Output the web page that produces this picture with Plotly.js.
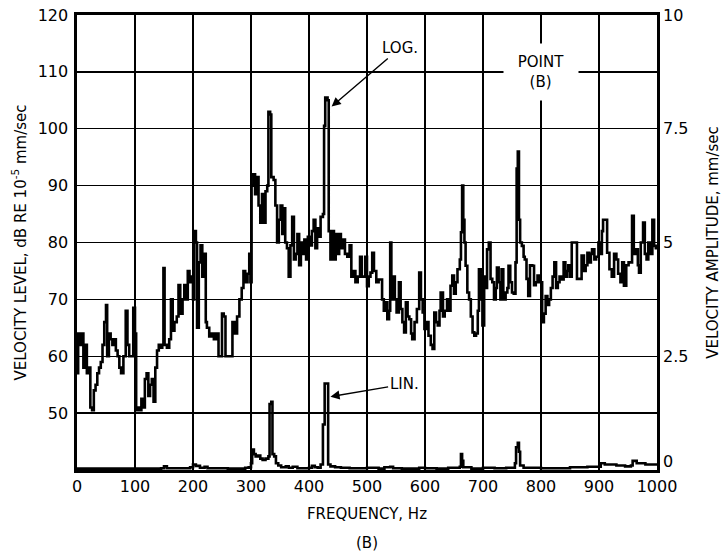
<!DOCTYPE html>
<html>
<head>
<meta charset="utf-8">
<script src="https://cdn.plot.ly/plotly-3.0.1.min.js"></script>
<style>html,body{margin:0;padding:0;background:#fff;}#chart{width:722px;height:552px;}</style>
</head>
<body>
<div id="chart"></div>
<script>
// LOG trace: frequency (Hz) and velocity level (dB re 1e-5 mm/sec)
const logFreq = [0,2,5,8,11,14,17,20,23,26,29,32,35,38,41,44,47,50,52,55,58,61,64,67,70,73,76,80,84,87,90,94,97,100,102,105,108,111,114,117,120,123,126,129,132,135,138,141,144,147,149,151,155,159,162,165,168,172,175,178,182,185,188,191,194,197,200,202,205,207,210,213,216,219,222,224,228,232,236,240,244,247,250,253,256,260,264,268,272,276,280,284,287,290,294,297,299,301,304,307,310,313,316,319,322,325,328,330,333,335,339,342,345,348,351,354,357,359,362,365,368,371,374,377,380,383,386,389,392,395,398,402,405,408,411,414,417,420,424,426,428,432,434,437,440,443,446,449,452,455,459,462,466,470,473,477,480,484,488,491,494,497,500,503,506,509,512,516,520,523,526,529,532,535,538,540,542,545,548,551,555,558,561,564,567,570,573,576,578,582,586,590,593,596,599,603,606,610,613,616,619,622,625,627,631,634,638,641,644,647,650,653,656,660,662,664,666,668,670,673,676,679,682,685,688,691,693,696,699,702,705,707,710,713,716,719,722,724,727,730,732,735,739,742,744,747,750,753,756,758,760,762,764,767,770,772,775,778,781,785,788,791,794,797,800,802,805,808,811,814,817,820,823,826,829,832,835,839,842,845,847,850,853,857,860,862,866,870,874,877,880,883,886,888,892,895,899,902,905,907,911,914,918,922,926,930,933,937,940,943,947,951,955,957,960,964,967,969,972,976,979,982,985,988,992,995,998,1000];
const logLevel = [57,64,62,64,58,62,57,58,51,50.5,54,55,57,58,59,62,66,69,60,64,63,62,63,61,60,58,57,60,68,62,60,60,68.5,64,50.5,51,50.5,52.5,51,56,57,53,55,56,52,58,61,62,61.5,62,75.5,62,61.5,63,70,64.5,66,67,72.5,67.5,70,72.5,70,75,73,74,70,82,80,65,76.5,79.5,74,78,66,65,63.5,64,63,64,60,60,67.5,67,60,60,60,66,64,67,70,72,75,73,74.5,78,73,90,92,88.5,91.5,86.5,83.5,88.5,83.5,89,90,103,102.5,91.5,91,86.5,80,84,86.5,81.5,86,80,79,74,79.5,84.5,77,78,81.5,76,80,78,80.5,77,81,79.5,82,84,79,82.5,81,84.5,85,100.5,105.5,105,82,77,82,77,81.5,78,81.5,79,80.5,78,77.5,79.5,74,75,73,74,77.5,74,74,77.5,72.3,74,74.7,78.2,75,73,73.5,73.5,70,68,69.5,66.5,68,80,70,74,70,67.7,73,68.3,66,64.2,69.5,67,66.5,64,63,66,68.3,74.7,70,67.7,64.8,66,63.6,62,61.3,67.7,66,65.4,68,71.2,67,68,70,68,72.4,74.2,71,73,75.3,77,81.8,90,84,80,75.9,71.2,70,67,64.2,63.6,64,68,75.3,70,65.4,74,72,78.8,80,73.6,73,70,72,75.6,73,70,75.3,70,71.2,72,75.9,73,71.2,71,76.5,93,96,84,80,79.4,77.5,77,73.6,70.6,76,75.9,72.5,73,74.2,73,73,66,67.5,70.6,69,70,72,74,76.5,72,73,74,73.5,76.5,74,75,76,74,80,80,80,73.6,73.6,77.7,75,76,78.2,76.5,78,78.8,77,77.5,80,78,82,84,84,78.2,75.3,74,78,77,74.5,73,76.5,72.4,76,76.5,76.5,84.7,78,78.8,76,74.7,80,83.5,78,77,80,78,84,79.4,79,79];

// LIN trace: frequency (Hz) and velocity amplitude (mm/sec)
const linFreq = [0,50,100,145,150,155,195,200,205,212,220,225,260,290,296,300,302,305,308,312,316,320,325,330,332,335,337,340,343,347,352,360,365,372,380,390,400,405,410,415,420,424,427,431,433,437,445,455,470,490,500,520,530,540,545,560,590,600,620,640,660,662,664,666,680,700,720,740,755,757,760,762,764,770,800,850,880,900,903,910,930,945,955,958,965,980,1000];
const linAmp = [0.03,0.03,0.03,0.04,0.08,0.04,0.06,0.12,0.09,0.05,0.07,0.04,0.03,0.05,0.06,0.15,0.45,0.35,0.3,0.32,0.25,0.22,0.25,0.3,1.45,1.5,0.35,0.3,0.15,0.1,0.06,0.08,0.05,0.07,0.04,0.04,0.05,0.09,0.06,0.05,0.12,1.0,1.9,1.9,0.12,0.08,0.06,0.05,0.04,0.04,0.05,0.03,0.06,0.07,0.04,0.03,0.05,0.04,0.03,0.05,0.07,0.35,0.2,0.06,0.03,0.05,0.04,0.05,0.15,0.5,0.6,0.4,0.1,0.05,0.04,0.06,0.07,0.07,0.15,0.12,0.1,0.08,0.1,0.2,0.15,0.12,0.1];

// Axis ticks
const xTicks = [0,100,200,300,400,500,600,700,800,900,1000];
const yTicks = [50,60,70,80,90,100,110,120];
// the "0" label of the right axis sits slightly above the bottom frame in the reference
const y2Ticks = [0.18,2.5,5,7.5,10];
const y2Labels = ['0','2.5','5','7.5','10'];

const FONT = 'DejaVu Sans, Liberation Sans, sans-serif';

const traces = [
  {x: logFreq, y: logLevel, type: 'scatter', mode: 'lines', name: 'LOG.',
   line: {color: '#000', width: 2.6, shape: 'hv'}, yaxis: 'y', showlegend: false, hoverinfo: 'skip'},
  {x: linFreq, y: linAmp, type: 'scatter', mode: 'lines', name: 'LIN.',
   line: {color: '#000', width: 2.6, shape: 'hv'}, yaxis: 'y2', showlegend: false, hoverinfo: 'skip'}
];

const layout = {
  width: 722, height: 552,
  margin: {l: 77, r: 65, t: 15, b: 82},
  paper_bgcolor: '#fff', plot_bgcolor: '#fff',
  font: {family: FONT, color: '#000', size: 16},
  showlegend: false,
  xaxis: {
    range: [0, 1000], tickvals: xTicks, ticks: '', showgrid: true,
    gridcolor: '#000', gridwidth: 1.3, zeroline: false,
    showline: true, linecolor: '#000', linewidth: 2.6, mirror: true,
    tickfont: {family: FONT, size: 16}, automargin: false,
    title: {text: 'FREQUENCY, Hz', font: {family: FONT, size: 15}, standoff: 14}
  },
  yaxis: {
    range: [40, 120], tickvals: yTicks, ticks: '', showgrid: true,
    gridcolor: '#000', gridwidth: 1.3, zeroline: false,
    showline: true, linecolor: '#000', linewidth: 2.6, mirror: true,
    tickfont: {family: FONT, size: 16}, automargin: false, ticklabelstandoff: 3,
    title: {text: 'VELOCITY LEVEL, dB RE 10<sup>-5</sup> mm/sec', font: {family: FONT, size: 15}, standoff: 8}
  },
  yaxis2: {
    range: [0, 10], tickvals: y2Ticks, ticktext: y2Labels, ticks: '',
    overlaying: 'y', side: 'right', showgrid: false, zeroline: false,
    showline: false, tickfont: {family: FONT, size: 16}, automargin: false, ticklabelstandoff: 5,
    title: {text: 'VELOCITY AMPLITUDE, mm/sec', font: {family: FONT, size: 15}, standoff: 20}
  },
  annotations: [
    {x: 439, y: 103.9, xref: 'x', yref: 'y', ax: 557, ay: 114.2, axref: 'x', ayref: 'y',
     text: 'LOG.', showarrow: true, arrowhead: 2, arrowsize: 1.3, arrowwidth: 1.4, arrowcolor: '#000',
     font: {family: FONT, size: 15}},
    {x: 437, y: 52.9, xref: 'x', yref: 'y', ax: 564, ay: 55.1, axref: 'x', ayref: 'y',
     text: 'LIN.', showarrow: true, arrowhead: 2, arrowsize: 1.3, arrowwidth: 1.4, arrowcolor: '#000',
     font: {family: FONT, size: 15}},
    {x: 800, y: 110, xref: 'x', yref: 'y', text: 'POINT<br>(B)', showarrow: false,
     xanchor: 'center', yanchor: 'middle', bgcolor: '#fff', width: 72, height: 54,
     font: {family: FONT, size: 15}},
    {x: 0.5, y: -0.16, xref: 'paper', yref: 'paper', text: '(B)', showarrow: false,
     xanchor: 'center', yanchor: 'middle', font: {family: FONT, size: 15}}
  ]
};

Plotly.newPlot('chart', traces, layout, {displayModeBar: false, staticPlot: true});
</script>
</body>
</html>
